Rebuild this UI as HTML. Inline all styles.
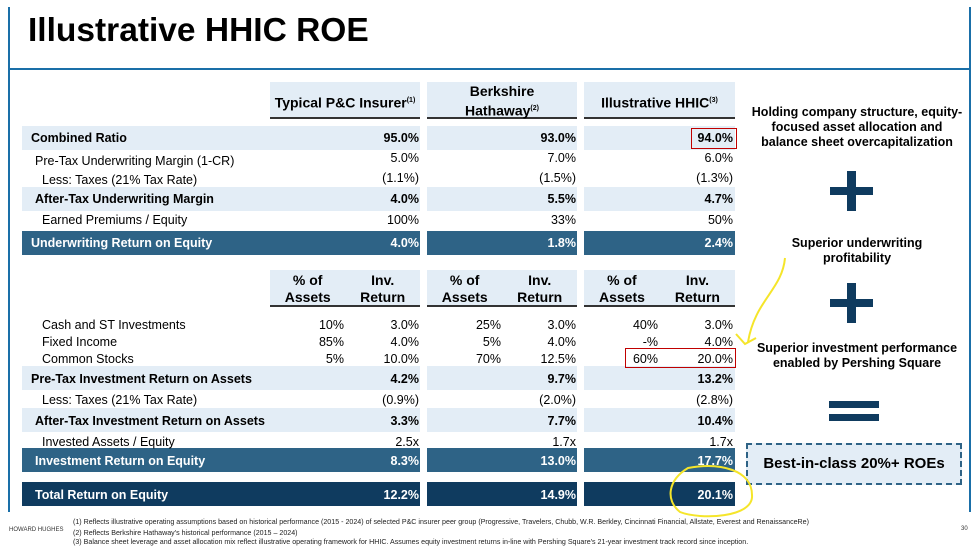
<!DOCTYPE html>
<html><head><meta charset="utf-8"><style>
*{margin:0;padding:0;box-sizing:border-box}
body{width:980px;height:549px;position:relative;background:#fff;font-family:"Liberation Sans",Arial,sans-serif;color:#000;overflow:hidden}
.a{position:absolute}
.band{position:absolute;background:#e3edf6}
.dk{position:absolute;background:#2e6386}
.nv{position:absolute;background:#0f3b5f}
.t{position:absolute;font-size:12.5px;white-space:nowrap;line-height:14px}
.b{font-weight:bold}
.w{color:#fff;font-weight:bold}
.r{text-align:right}
.hd{position:absolute;background:#e3edf6;border-bottom:2px solid #333;font-weight:bold;font-size:14px;text-align:center;line-height:17px;white-space:nowrap}
.rt{position:absolute;font-weight:bold;font-size:12.5px;text-align:center;line-height:15px;width:230px;left:742px}
sup{font-size:7px}
.fn{position:absolute;left:73px;font-size:7.1px;white-space:nowrap;color:#222}
</style></head><body>
<div class="a" style="left:8px;top:7px;width:2px;height:505px;background:#1a6fa8"></div>
<div class="a" style="left:969px;top:7px;width:2px;height:505px;background:#1a6fa8"></div>
<div class="a" style="left:8px;top:68px;width:963px;height:2px;background:#1a6fa8"></div>
<div class="a b" style="left:28px;top:11px;font-size:33.5px;line-height:40px">Illustrative HHIC ROE</div>

<!-- column headers -->
<div class="hd" style="left:270px;top:82px;width:150px;height:37px;padding-top:10px">Typical P&amp;C Insurer<sup>(1)</sup></div>
<div class="hd" style="left:427px;top:82px;width:150px;height:37px;padding-top:1px">Berkshire<br>Hathaway<sup>(2)</sup></div>
<div class="hd" style="left:584px;top:82px;width:151px;height:37px;padding-top:10px">Illustrative HHIC<sup>(3)</sup></div>

<!-- section 1 bands -->
<div class="band" style="left:22px;top:126px;width:398px;height:24px"></div>
<div class="band" style="left:427px;top:126px;width:150px;height:24px"></div>
<div class="band" style="left:584px;top:126px;width:151px;height:24px"></div>
<div class="band" style="left:22px;top:187px;width:398px;height:24px"></div>
<div class="band" style="left:427px;top:187px;width:150px;height:24px"></div>
<div class="band" style="left:584px;top:187px;width:151px;height:24px"></div>
<div class="dk" style="left:22px;top:231px;width:398px;height:24px"></div>
<div class="dk" style="left:427px;top:231px;width:150px;height:24px"></div>
<div class="dk" style="left:584px;top:231px;width:151px;height:24px"></div>

<div class="t b" style="left:31px;top:131px">Combined Ratio</div>
<div class="t" style="left:35px;top:154px">Pre-Tax Underwriting Margin (1-CR)</div>
<div class="t" style="left:42px;top:173px">Less: Taxes (21% Tax Rate)</div>
<div class="t b" style="left:35px;top:192px">After-Tax Underwriting Margin</div>
<div class="t" style="left:42px;top:213px">Earned Premiums / Equity</div>
<div class="t w" style="left:31px;top:236px">Underwriting Return on Equity</div>

<div class="t b r" style="left:320px;width:99px;top:131px">95.0%</div>
<div class="t r" style="left:320px;width:99px;top:151px">5.0%</div>
<div class="t r" style="left:320px;width:99px;top:171px">(1.1%)</div>
<div class="t b r" style="left:320px;width:99px;top:192px">4.0%</div>
<div class="t r" style="left:320px;width:99px;top:213px">100%</div>
<div class="t w r" style="left:320px;width:99px;top:236px">4.0%</div>

<div class="t b r" style="left:477px;width:99px;top:131px">93.0%</div>
<div class="t r" style="left:477px;width:99px;top:151px">7.0%</div>
<div class="t r" style="left:477px;width:99px;top:171px">(1.5%)</div>
<div class="t b r" style="left:477px;width:99px;top:192px">5.5%</div>
<div class="t r" style="left:477px;width:99px;top:213px">33%</div>
<div class="t w r" style="left:477px;width:99px;top:236px">1.8%</div>

<div class="t b r" style="left:634px;width:99px;top:131px">94.0%</div>
<div class="t r" style="left:634px;width:99px;top:151px">6.0%</div>
<div class="t r" style="left:634px;width:99px;top:171px">(1.3%)</div>
<div class="t b r" style="left:634px;width:99px;top:192px">4.7%</div>
<div class="t r" style="left:634px;width:99px;top:213px">50%</div>
<div class="t w r" style="left:634px;width:99px;top:236px">2.4%</div>
<div class="a" style="left:691px;top:128px;width:46px;height:21px;border:1.5px solid #c00000"></div>

<!-- section 2 headers -->
<div class="hd" style="left:270px;top:270px;width:150px;height:37px;display:flex;justify-content:space-around;padding-top:2px"><span>% of<br>Assets</span><span>Inv.<br>Return</span></div>
<div class="hd" style="left:427px;top:270px;width:150px;height:37px;display:flex;justify-content:space-around;padding-top:2px"><span>% of<br>Assets</span><span>Inv.<br>Return</span></div>
<div class="hd" style="left:584px;top:270px;width:151px;height:37px;display:flex;justify-content:space-around;padding-top:2px"><span>% of<br>Assets</span><span>Inv.<br>Return</span></div>

<div class="band" style="left:22px;top:366px;width:398px;height:24px"></div>
<div class="band" style="left:427px;top:366px;width:150px;height:24px"></div>
<div class="band" style="left:584px;top:366px;width:151px;height:24px"></div>
<div class="band" style="left:22px;top:408px;width:398px;height:24px"></div>
<div class="band" style="left:427px;top:408px;width:150px;height:24px"></div>
<div class="band" style="left:584px;top:408px;width:151px;height:24px"></div>
<div class="dk" style="left:22px;top:448px;width:398px;height:24px"></div>
<div class="dk" style="left:427px;top:448px;width:150px;height:24px"></div>
<div class="dk" style="left:584px;top:448px;width:151px;height:24px"></div>
<div class="nv" style="left:22px;top:482px;width:398px;height:24px"></div>
<div class="nv" style="left:427px;top:482px;width:150px;height:24px"></div>
<div class="nv" style="left:584px;top:482px;width:151px;height:24px"></div>

<div class="t" style="left:42px;top:318px">Cash and ST Investments</div>
<div class="t" style="left:42px;top:335px">Fixed Income</div>
<div class="t" style="left:42px;top:352px">Common Stocks</div>
<div class="t b" style="left:31px;top:372px">Pre-Tax Investment Return on Assets</div>
<div class="t" style="left:42px;top:393px">Less: Taxes (21% Tax Rate)</div>
<div class="t b" style="left:35px;top:414px">After-Tax Investment Return on Assets</div>
<div class="t" style="left:42px;top:435px">Invested Assets / Equity</div>
<div class="t w" style="left:35px;top:454px">Investment Return on Equity</div>
<div class="t w" style="left:35px;top:488px">Total Return on Equity</div>

<!-- typical -->
<div class="t r" style="left:280px;width:64px;top:318px">10%</div>
<div class="t r" style="left:280px;width:64px;top:335px">85%</div>
<div class="t r" style="left:280px;width:64px;top:352px">5%</div>
<div class="t r" style="left:350px;width:69px;top:318px">3.0%</div>
<div class="t r" style="left:350px;width:69px;top:335px">4.0%</div>
<div class="t r" style="left:350px;width:69px;top:352px">10.0%</div>
<div class="t b r" style="left:320px;width:99px;top:372px">4.2%</div>
<div class="t r" style="left:320px;width:99px;top:393px">(0.9%)</div>
<div class="t b r" style="left:320px;width:99px;top:414px">3.3%</div>
<div class="t r" style="left:320px;width:99px;top:435px">2.5x</div>
<div class="t w r" style="left:320px;width:99px;top:454px">8.3%</div>
<div class="t w r" style="left:320px;width:99px;top:488px">12.2%</div>
<!-- berkshire -->
<div class="t r" style="left:437px;width:64px;top:318px">25%</div>
<div class="t r" style="left:437px;width:64px;top:335px">5%</div>
<div class="t r" style="left:437px;width:64px;top:352px">70%</div>
<div class="t r" style="left:507px;width:69px;top:318px">3.0%</div>
<div class="t r" style="left:507px;width:69px;top:335px">4.0%</div>
<div class="t r" style="left:507px;width:69px;top:352px">12.5%</div>
<div class="t b r" style="left:477px;width:99px;top:372px">9.7%</div>
<div class="t r" style="left:477px;width:99px;top:393px">(2.0%)</div>
<div class="t b r" style="left:477px;width:99px;top:414px">7.7%</div>
<div class="t r" style="left:477px;width:99px;top:435px">1.7x</div>
<div class="t w r" style="left:477px;width:99px;top:454px">13.0%</div>
<div class="t w r" style="left:477px;width:99px;top:488px">14.9%</div>
<!-- hhic -->
<div class="t r" style="left:594px;width:64px;top:318px">40%</div>
<div class="t r" style="left:594px;width:64px;top:335px">-%</div>
<div class="t r" style="left:594px;width:64px;top:352px">60%</div>
<div class="t r" style="left:664px;width:69px;top:318px">3.0%</div>
<div class="t r" style="left:664px;width:69px;top:335px">4.0%</div>
<div class="t r" style="left:664px;width:69px;top:352px">20.0%</div>
<div class="t b r" style="left:634px;width:99px;top:372px">13.2%</div>
<div class="t r" style="left:634px;width:99px;top:393px">(2.8%)</div>
<div class="t b r" style="left:634px;width:99px;top:414px">10.4%</div>
<div class="t r" style="left:634px;width:99px;top:435px">1.7x</div>
<div class="t w r" style="left:634px;width:99px;top:454px">17.7%</div>
<div class="t w r" style="left:634px;width:99px;top:488px">20.1%</div>
<div class="a" style="left:625px;top:348px;width:111px;height:20px;border:1.5px solid #c00000"></div>

<!-- right panel -->
<div class="rt" style="top:105px">Holding company structure, equity-<br>focused asset allocation and<br>balance sheet overcapitalization</div>
<div class="a" style="left:830px;top:187px;width:43px;height:8px;background:#0f3b5f"></div>
<div class="a" style="left:847px;top:171px;width:9px;height:40px;background:#0f3b5f"></div>
<div class="rt" style="top:236px">Superior underwriting<br>profitability</div>
<div class="a" style="left:830px;top:299px;width:43px;height:8px;background:#0f3b5f"></div>
<div class="a" style="left:847px;top:283px;width:9px;height:40px;background:#0f3b5f"></div>
<div class="rt" style="top:341px">Superior investment performance<br>enabled by Pershing Square</div>
<div class="a" style="left:829px;top:401px;width:50px;height:7px;background:#0f3b5f"></div>
<div class="a" style="left:829px;top:414px;width:50px;height:7px;background:#0f3b5f"></div>
<div class="a b" style="left:746px;top:443px;width:216px;height:42px;background:#e3edf6;border:2px dashed #2e6386;font-size:15px;text-align:center;line-height:38px">Best-in-class 20%+ ROEs</div>

<!-- annotations -->
<svg class="a" style="left:0;top:0" width="980" height="549">
<path d="M785,258 C782,290 755,300 748,342" fill="none" stroke="#f5e52a" stroke-width="2"/>
<path d="M736,334 L745,344 L756,338" fill="none" stroke="#f5e52a" stroke-width="2"/>
<path d="M688,468 C720,462 752,470 752,495 C754,518 700,520 680,512 C665,500 668,480 688,468 Z" fill="none" stroke="#f5e52a" stroke-width="2"/>
</svg>

<!-- footer -->
<div class="a" style="left:9px;top:527px;font-size:6px;color:#333">HOWARD HUGHES</div>
<div class="fn" style="top:518px">(1) Reflects illustrative operating assumptions based on historical performance (2015 - 2024) of selected P&amp;C insurer peer group (Progressive, Travelers, Chubb, W.R. Berkley, Cincinnati Financial, Allstate, Everest and RenaissanceRe)</div>
<div class="fn" style="top:529px">(2) Reflects Berkshire Hathaway's historical performance (2015 – 2024)</div>
<div class="fn" style="top:538px">(3) Balance sheet leverage and asset allocation mix reflect illustrative operating framework for HHIC. Assumes equity investment returns in-line with Pershing Square's 21-year investment track record since inception.</div>
<div class="a" style="left:961px;top:526px;font-size:6px;color:#333">30</div>
</body></html>
